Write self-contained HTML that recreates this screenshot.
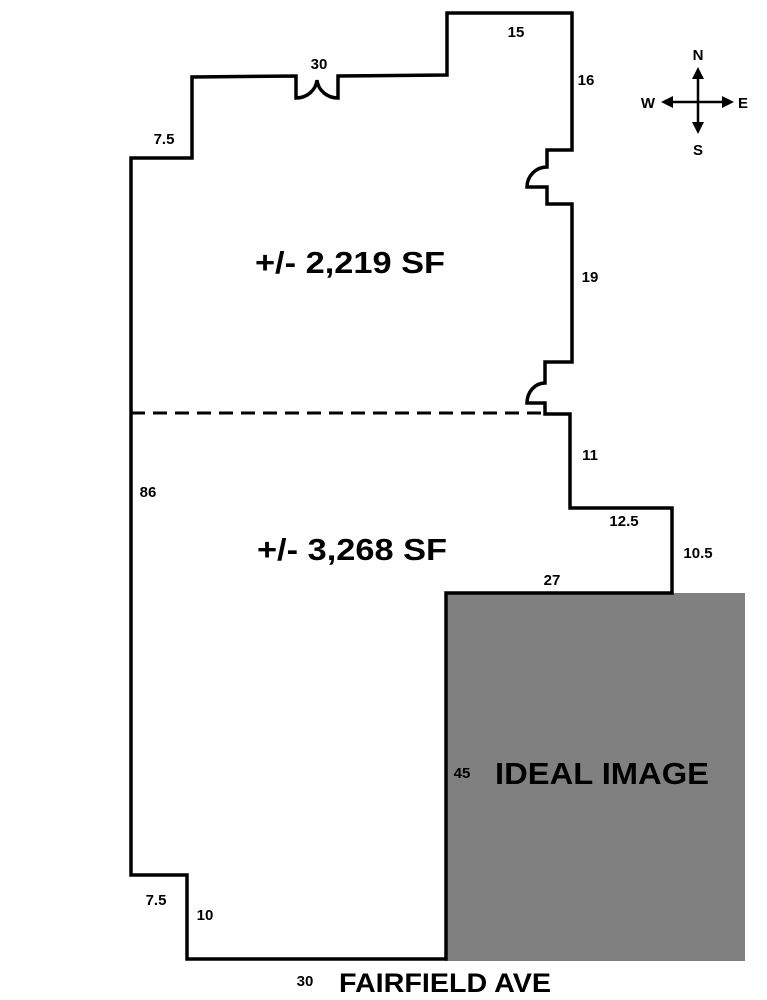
<!DOCTYPE html>
<html><head><style>
html,body{margin:0;padding:0;background:#fff;}
svg{display:block;}
text{font-family:"Liberation Sans",sans-serif;font-weight:bold;fill:#000;}
</style></head><body>
<svg width="767" height="1000" viewBox="0 0 767 1000" xmlns="http://www.w3.org/2000/svg">
<rect x="445" y="593" width="300" height="368" fill="#808080"/>
<path d="M131,158 L192,158 L192,77 L296,76 L296,98 A21,20 0 0 0 317,80 A21,20 0 0 0 338,98 L338,76 L447,75 L447,13 L572,13 L572,150 L547,150 L547,167 A20,20 0 0 0 527,187 L547,187 L547,204 L572,204 L572,362 L545,362 L545,383 A18,20 0 0 0 527,403 L545,403 L545,414 L570,414 L570,508 L672,508 L672,593 L446,593 L446,959 L187,959 L187,875 L131,875 Z" fill="none" stroke="#000" stroke-width="3.5" stroke-linejoin="miter"/>
<line x1="131" y1="413" x2="543" y2="413" stroke="#000" stroke-width="3" stroke-dasharray="14,8"/>
<g stroke="#000" stroke-width="2.5">
<line x1="698" y1="76" x2="698" y2="126"/>
<line x1="670" y1="102" x2="726" y2="102"/>
</g>
<g fill="#000">
<polygon points="698,67 692,79 704,79"/>
<polygon points="698,134 692,122 704,122"/>
<polygon points="661,102 673,96 673,108"/>
<polygon points="734,102 722,96 722,108"/>
</g>
<text x="698" y="60" font-size="15" text-anchor="middle">N</text>
<text x="698" y="155" font-size="15" text-anchor="middle">S</text>
<text x="648" y="108" font-size="15" text-anchor="middle">W</text>
<text x="743" y="108" font-size="15" text-anchor="middle">E</text>
<g font-size="15">
<text x="319" y="69" text-anchor="middle">30</text>
<text x="516" y="37" text-anchor="middle">15</text>
<text x="586" y="85" text-anchor="middle">16</text>
<text x="164" y="144" text-anchor="middle">7.5</text>
<text x="590" y="282" text-anchor="middle">19</text>
<text x="590" y="460" text-anchor="middle">11</text>
<text x="148" y="497" text-anchor="middle">86</text>
<text x="624" y="526" text-anchor="middle">12.5</text>
<text x="698" y="558" text-anchor="middle">10.5</text>
<text x="552" y="585" text-anchor="middle">27</text>
<text x="462" y="778" text-anchor="middle">45</text>
<text x="156" y="905" text-anchor="middle">7.5</text>
<text x="205" y="920" text-anchor="middle">10</text>
<text x="305" y="986" text-anchor="middle">30</text>
</g>
<text x="255" y="273" font-size="31" textLength="190" lengthAdjust="spacingAndGlyphs">+/- 2,219 SF</text>
<text x="257" y="560" font-size="31" textLength="190" lengthAdjust="spacingAndGlyphs">+/- 3,268 SF</text>
<text x="495" y="784" font-size="31" textLength="214" lengthAdjust="spacingAndGlyphs">IDEAL IMAGE</text>
<text x="339" y="992" font-size="27" textLength="212" lengthAdjust="spacingAndGlyphs">FAIRFIELD AVE</text>
</svg>
</body></html>
